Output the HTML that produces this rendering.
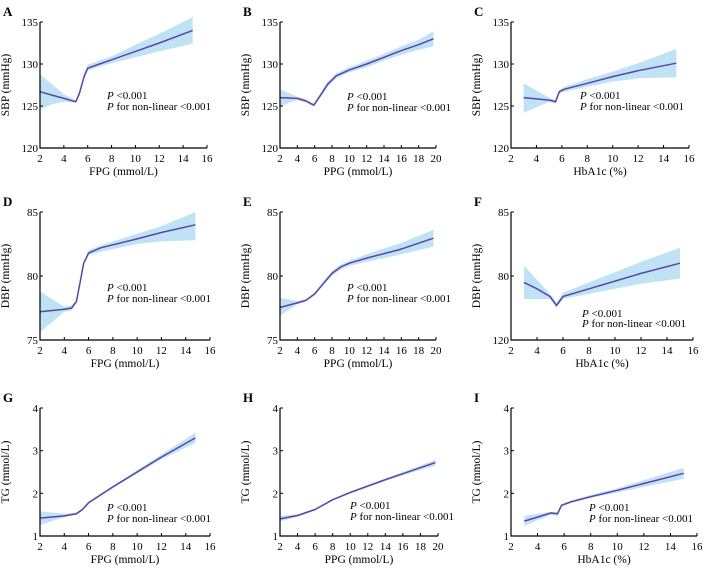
<!DOCTYPE html>
<html><head><meta charset="utf-8"><style>
body{margin:0;background:#fff}
svg{display:block;font-family:"Liberation Serif",serif}
</style></head><body>
<svg id="fig" width="705" height="570" viewBox="0 0 705 570"></svg>
<script>
// ---- data per panel ----
const aX=[2,3,4,5,5.3,5.7,6,7,8,10,12,14.8];
const aMean=[126.7,126.3,125.9,125.5,126.5,128.5,129.5,130.0,130.5,131.5,132.5,134.0];
const aLo=[124.6,125.2,125.5,125.4,126.2,128.2,129.2,129.7,130.1,130.8,131.5,132.4];
const aHi=[128.8,127.6,126.4,125.7,126.8,128.9,129.9,130.4,130.9,132.3,133.6,135.6];
const bX=[2,4,5,5.9,6.5,7.5,8.5,10,12,14,16,18,19.7];
const bMean=[126,125.9,125.6,125.1,126,127.6,128.6,129.3,130,130.8,131.6,132.3,133];
const bLo=[125,125.7,125.4,124.95,125.8,127.3,128.3,129.0,129.6,130.4,131.1,131.7,132.1];
const bHi=[127,126.1,125.8,125.3,126.3,127.9,128.9,129.6,130.4,131.2,132.1,132.9,133.9];
const cX=[3,5,5.3,5.5,5.8,6.2,8,10,12,15];
const cMean=[126,125.7,125.6,125.5,126.7,127,127.7,128.5,129.2,130.1];
const cLo=[124.2,125.5,125.4,125.2,126.5,126.7,127.3,127.9,128.3,128.4];
const cHi=[127.7,126.0,125.8,125.7,126.9,127.3,128.2,129.1,130.1,131.8];
const dX=[2,4,4.6,5,5.3,5.6,6,7,10,12,14.8];
const dMean=[77.2,77.4,77.5,78,79.5,81,81.8,82.2,82.9,83.4,84];
const dLo=[75.6,77.2,77.3,77.9,79.4,80.9,81.6,81.9,82.5,82.7,82.8];
const dHi=[78.8,77.6,77.7,78.1,79.6,81.1,82.0,82.4,83.3,83.9,85.0];
const eX=[2,4,5,6,7,8,9,10,12,16,19.7];
const eMean=[77.55,77.9,78.1,78.6,79.4,80.2,80.7,81.0,81.4,82.1,82.95];
const eLo=[76.9,77.8,78.0,78.5,79.3,80.0,80.5,80.8,81.1,81.7,82.3];
const eHi=[78.3,78.05,78.2,78.7,79.6,80.4,80.9,81.2,81.7,82.6,83.6];
const fX=[3,4,5,5.5,6,8,10,12,15];
const fMean=[79.5,79.0,78.4,77.7,78.4,79.0,79.6,80.2,81.0];
const fLo=[78.2,78.2,78.2,77.5,78.2,78.6,79.0,79.4,79.8];
const fHi=[80.8,79.7,78.6,77.9,78.7,79.5,80.3,81.1,82.2];
const gX=[2,4,5,5.5,6,8,10,12,14.8];
const gMean=[1.42,1.47,1.52,1.62,1.78,2.15,2.5,2.85,3.3];
const gLo=[1.26,1.44,1.5,1.6,1.76,2.12,2.46,2.8,3.18];
const gHi=[1.58,1.52,1.55,1.65,1.81,2.18,2.54,2.91,3.42];
const hX=[2,4,6,8,10,12,14,16,18,19.7];
const hMean=[1.4,1.48,1.62,1.85,2.02,2.17,2.32,2.46,2.6,2.72];
const hLo=[1.34,1.45,1.6,1.83,2.0,2.14,2.29,2.42,2.55,2.65];
const hHi=[1.47,1.51,1.64,1.87,2.04,2.2,2.35,2.5,2.65,2.79];
const iX=[3,5,5.5,5.8,6.5,8,10,12,15];
const iMean=[1.35,1.54,1.52,1.72,1.8,1.92,2.07,2.23,2.47];
const iLo=[1.24,1.5,1.47,1.69,1.77,1.89,2.02,2.15,2.34];
const iHi=[1.47,1.57,1.56,1.75,1.83,1.96,2.12,2.31,2.6];

const xT16=[2,4,6,8,10,12,14,16];
const xT20=[2,4,6,8,10,12,14,16,18,20];
const sbpT=[120,125,130,135], sbpL=["120","125","130","135"];
const dbpT=[75,80,85], dbpL=["75","80","85"], dbpLF=["120","80","85"];
const tgT=[1,2,3,4], tgL=["1","2","3","4"];

const panels=[
 {id:"A",X:aX,M:aMean,L:aLo,H:aHi,l:40,r:207,t:22,b:148,x0:2,x1:16,xt:xT16,y0:120,y1:135,yt:sbpT,yl:sbpL,yn:"SBP (mmHg)",xn:"FPG (mmol/L)",px:107},
 {id:"B",X:bX,M:bMean,L:bLo,H:bHi,l:280,r:436,t:22,b:148,x0:2,x1:20,xt:xT20,y0:120,y1:135,yt:sbpT,yl:sbpL,yn:"SBP (mmHg)",xn:"PPG (mmol/L)",px:347},
 {id:"C",X:cX,M:cMean,L:cLo,H:cHi,l:511,r:689,t:22,b:148,x0:2,x1:16,xt:xT16,y0:120,y1:135,yt:sbpT,yl:sbpL,yn:"SBP (mmHg)",xn:"HbA1c (%)",px:580},
 {id:"D",X:dX,M:dMean,L:dLo,H:dHi,l:40,r:210,t:212,b:340,x0:2,x1:16,xt:xT16,y0:75,y1:85,yt:dbpT,yl:dbpL,yn:"DBP (mmHg)",xn:"FPG (mmol/L)",px:107},
 {id:"E",X:eX,M:eMean,L:eLo,H:eHi,l:280,r:436,t:212,b:340,x0:2,x1:20,xt:xT20,y0:75,y1:85,yt:dbpT,yl:dbpL,yn:"DBP (mmHg)",xn:"PPG (mmol/L)",px:347},
 {id:"F",X:fX,M:fMean,L:fLo,H:fHi,l:511,r:693,t:212,b:340,x0:2,x1:16,xt:xT16,y0:75,y1:85,yt:dbpT,yl:dbpLF,yn:"DBP (mmHg)",xn:"HbA1c (%)",px:582},
 {id:"G",X:gX,M:gMean,L:gLo,H:gHi,l:40,r:210,t:408,b:536,x0:2,x1:16,xt:xT16,y0:1,y1:4,yt:tgT,yl:tgL,yn:"TG (mmol/L)",xn:"FPG (mmol/L)",px:107},
 {id:"H",X:hX,M:hMean,L:hLo,H:hHi,l:280,r:438,t:408,b:536,x0:2,x1:20,xt:xT20,y0:1,y1:4,yt:tgT,yl:tgL,yn:"TG (mmol/L)",xn:"PPG (mmol/L)",px:350},
 {id:"I",X:iX,M:iMean,L:iLo,H:iHi,l:511,r:697,t:408,b:536,x0:2,x1:16,xt:xT16,y0:1,y1:4,yt:tgT,yl:tgL,yn:"TG (mmol/L)",xn:"HbA1c (%)",px:589}
];
const NS="http://www.w3.org/2000/svg";
const svg=document.getElementById('fig');
function mk(tag,attrs,parent,txt){const e=document.createElementNS(NS,tag);for(const k in attrs)e.setAttribute(k,attrs[k]);if(txt!==undefined)e.textContent=txt;parent.appendChild(e);return e;}
const ann={A:[99,110],B:[100,111],C:[99,110],D:[291,302],E:[291,302],F:[317,327],G:[511,522],H:[509,520],I:[511,522]};
panels.forEach(p=>{
 const g=mk('g',{},svg);
 
 
 const sx=v=>p.l+(v-p.x0)/(p.x1-p.x0)*(p.r-p.l);
 const sy=v=>p.b-(v-p.y0)/(p.y1-p.y0)*(p.b-p.t);
 const lt=mk('text',{x:p.l-37,y:p.t-6,'font-size':13,'font-weight':'bold'},g,p.id);
 
 
 let d='M'+p.X.map((x,i)=>sx(x).toFixed(1)+','+sy(p.H[i]).toFixed(1)).join('L');
 d+='L'+p.X.slice().reverse().map((x,j)=>{const i=p.X.length-1-j;return sx(x).toFixed(1)+','+sy(p.L[i]).toFixed(1);}).join('L')+'Z';
 const band=mk('path',{d:d,fill:'#bfe3f5',stroke:'none'},g);
 
 
 const ln=mk('polyline',{points:p.X.map((x,i)=>sx(x).toFixed(1)+','+sy(p.M[i]).toFixed(1)).join(' '),fill:'none',stroke:'#5b44a8','stroke-width':1.5,'stroke-linejoin':'round'},g);
 
 
 const ax=mk('path',{d:`M${p.l},${p.t}V${p.b}H${p.r}`,fill:'none',stroke:'#000','stroke-width':1.2},g);
 
 
 p.xt.forEach(v=>{
  mk('line',{x1:sx(v),x2:sx(v),y1:p.b,y2:p.b-3,stroke:'#000','stroke-width':1},g);
  const t=mk('text',{x:sx(v),y:p.b+14,'font-size':11,'text-anchor':'middle'},g,String(v));
  
  
 });
 p.yt.forEach((v,i)=>{
  mk('line',{x1:p.l,x2:p.l+3,y1:sy(v),y2:sy(v),stroke:'#000','stroke-width':1},g);
  const t=mk('text',{x:p.l-2,y:sy(v)+4,'font-size':11,'text-anchor':'end'},g,p.yl[i]);
  
  
 });
 const xl=mk('text',{x:(p.l+p.r)/2,y:p.b+27,'font-size':11.5,'text-anchor':'middle'},g,p.xn);
 
 
 const cy=(p.t+p.b)/2, cx=p.l-31;
 const yl=mk('text',{x:cx,y:cy,'font-size':11.5,'text-anchor':'middle',transform:`rotate(-90 ${cx} ${cy})`},g,p.yn);
 
 
 const a=ann[p.id];
 const t1=mk('text',{x:p.px,y:a[0],'font-size':11},g);
 
 
 mk('tspan',{'font-style':'italic'},t1,'P');mk('tspan',{},t1,' <0.001');
 const t2=mk('text',{x:p.px,y:a[1],'font-size':11},g);
 
 
 mk('tspan',{'font-style':'italic'},t2,'P');mk('tspan',{},t2,' for non-linear <0.001');
});
</script>
</body></html>
